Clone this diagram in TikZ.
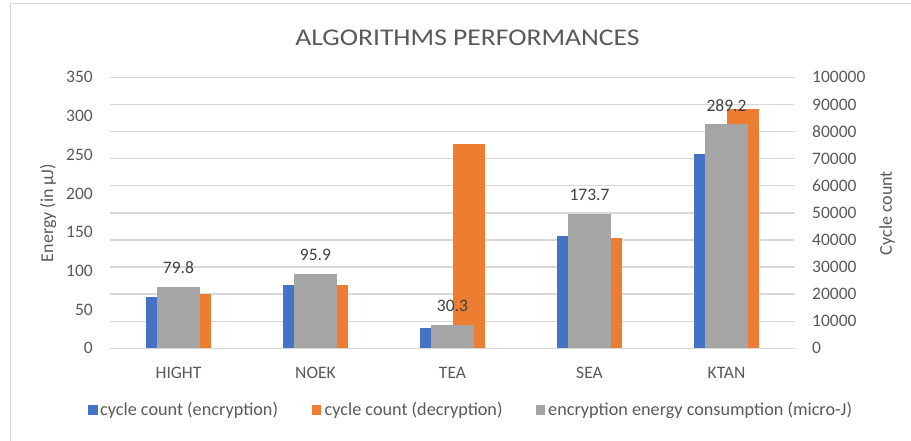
\documentclass[tikz,border=0pt]{standalone}
\usepackage{fontspec}
\setmainfont{Carlito}
\newfontfamily\titlefont[FakeStretch=1.15]{Carlito}
\definecolor{encblue}{HTML}{4472C4}
\definecolor{decorange}{HTML}{ED7D31}
\definecolor{energygray}{HTML}{A5A5A5}
\definecolor{gridgray}{HTML}{D9D9D9}
\definecolor{labelgray}{HTML}{595959}
\tikzset{
  gridline/.style={draw=gridgray, line width=1.4pt},
  ticklabel/.style={text=labelgray, font=\fontsize{17.5}{20}\selectfont, inner sep=0pt},
  catlabel/.style={text=labelgray, font=\fontsize{17.5}{20}\selectfont, inner sep=0pt},
  datalabel/.style={text=black!75, font=\fontsize{17.5}{20}\selectfont, inner sep=0pt},
  axistitle/.style={text=labelgray, font=\fontsize{18}{20}\selectfont, inner sep=0pt, rotate=90},
  legendtext/.style={text=labelgray, font=\fontsize{18.2}{20}\selectfont, inner sep=0pt, anchor=west},
  legendkey/.style={minimum size=9.5pt, inner sep=0pt, draw=none},
}
\begin{document}
\begin{tikzpicture}[x=1pt, y=-1pt]
  \useasboundingbox (0,0) rectangle (911,440);
  % chart frame (runs off the right and bottom edges)
  \draw[gridgray, line width=0.8pt] (10.7,445) -- (10.7,3.3) -- (916,3.3);

  % title
  \node[text=labelgray, font=\titlefont\fontsize{24}{26}\selectfont, inner sep=0pt] (title) at (467.5,37.5) {ALGORITHMS PERFORMANCES};

  % horizontal gridlines, 11 levels
  \foreach \k in {0,...,10} {
    \draw[gridline] (110,{348.3-27.1*\k}) -- (795,{348.3-27.1*\k});
  }

  % left axis: energy 0..350
  \foreach \v [count=\j from 0] in {0,50,100,150,200,250,300,350} {
    \node[ticklabel, anchor=east] (left\j) at (93,{348.3-\v/350*271}) {\v};
  }
  % right axis: cycle count 0..100000
  \foreach \v [count=\j from 0] in {0,10000,20000,30000,40000,50000,60000,70000,80000,90000,100000} {
    \node[ticklabel, anchor=west] (right\j) at (812,{348.3-27.1*\j}) {\v};
  }

  \node[axistitle] (ytitle) at (48,213) {Energy (in µJ)};
  \node[axistitle] (y2title) at (887,213) {Cycle count};

  % bars: blue/orange on the cycle axis (thousands), grey on the energy axis in front
  \foreach \i/\name/\enc/\dec/\en in {
      0/HIGHT/19.0/20.0/79.8,
      1/NOEK/23.5/23.5/95.9,
      2/TEA/7.4/75.4/30.3,
      3/SEA/41.3/40.6/173.7,
      4/KTAN/71.7/88.3/289.2} {
    \pgfmathsetmacro\cx{178.5+137*\i}
    \pgfmathsetmacro\ency{348.3-\enc*2.71}
    \pgfmathsetmacro\decy{348.3-\dec*2.71}
    \pgfmathsetmacro\eny{348.3-\en/350*271}
    \fill[encblue] ({\cx-32.5},348.3) rectangle (\cx,\ency);
    \fill[decorange] (\cx,348.3) rectangle ({\cx+32.5},\decy);
    \fill[energygray] ({\cx-21.8},348.3) rectangle ({\cx+21.8},\eny);
    \node[datalabel] (val\i) at (\cx,{\eny-19}) {\en};
    \node[catlabel] (cat\i) at (\cx,373) {\name};
  }

  % legend
  \node[legendkey, fill=encblue] (keyenc) at (92.9,410) {};
  \node[legendtext] (txtenc) at (100,410) {cycle count (encryption)};
  \node[legendkey, fill=decorange] (keydec) at (316.7,410) {};
  \node[legendtext] (txtdec) at (324.5,410) {cycle count (decryption)};
  \node[legendkey, fill=energygray] (keyen) at (540.4,410) {};
  \node[legendtext] (txten) at (548,410) {encryption energy consumption (micro-J)};
\end{tikzpicture}
\end{document}
